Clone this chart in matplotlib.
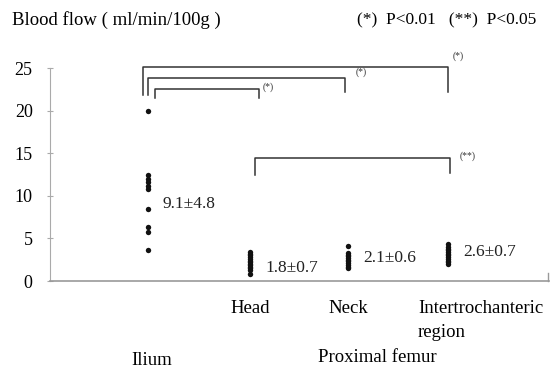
"""Blood flow per site -- dot plot with significance brackets."""

import matplotlib
matplotlib.use("Agg")
import matplotlib.pyplot as plt

plt.rcParams["font.family"] = ["Liberation Serif", "DejaVu Serif"]

# data (ml/min/100g)
ilium = [20.0, 12.4, 12.0, 11.6, 11.2, 10.8, 8.5, 6.4, 5.8, 3.6]
head = [0.8, 1.3, 1.5, 1.7, 1.9, 2.0, 2.2, 2.4, 2.6, 2.8, 3.0, 3.2, 3.35]
neck = [1.5, 1.7, 1.9, 2.1, 2.3, 2.5, 2.7, 2.9, 3.1, 3.3, 4.1]
inter = [2.0, 2.2, 2.4, 2.6, 2.8, 3.0, 3.2, 3.4, 3.6, 3.8, 4.0, 4.3]
summary = ["9.1\u00b14.8", "1.8\u00b10.7", "2.1\u00b10.6", "2.6\u00b10.7"]
summary_y = [9.1, 1.5, 2.7, 3.4]
site_labels = ["Head", "Neck", "Intertrochanteric\nregion"]
yticks = [0, 5, 10, 15, 20, 25]

groups = [ilium, head, neck, inter]
xpos = [1.0, 2.02, 3.0, 4.0]

fig = plt.figure(figsize=(5.5, 3.68), dpi=100)
ax = fig.add_axes([0.0909, 0.2364, 0.9071, 0.6549])
ax.set_xlim(0.02, 5.01)
ax.set_ylim(0, 28.3)

for x, vals in zip(xpos, groups):
    ax.scatter([x] * len(vals), vals, s=15, color="#111111", zorder=3, linewidths=0)

for x, txt, y in zip(xpos, summary, summary_y):
    ax.text(x + 0.15, y, txt, fontsize=12.5, va="center", ha="left", color="#222222")

# significance brackets
def bracket(x0, x1, y, l0, l1, lab, lx, ly):
    ax.plot([x0, x0, x1, x1], [l0, y, y, l1], color="#333333", lw=1.1, clip_on=False)
    ax.text(lx, ly, lab, fontsize=7, ha="left", va="center", color="#333333")

bracket(xpos[0] - 0.05, xpos[3], 25.15, 21.8, 22.2, "(*)", 4.05, 26.4)
bracket(xpos[0], xpos[2] - 0.03, 23.8, 21.8, 22.2, "(*)", 3.08, 24.5)
bracket(xpos[0] + 0.07, xpos[1] + 0.09, 22.6, 21.5, 21.5, "(*)", 2.15, 22.7)
bracket(xpos[1] + 0.05, xpos[3] + 0.02, 14.4, 12.4, 12.7, "(**)", 4.12, 14.6)

for s in ("top", "right"):
    ax.spines[s].set_visible(False)
ax.spines["left"].set_bounds(0, 25)
ax.spines["left"].set_color("#aaaaaa")
ax.spines["bottom"].set_color("#999999")
ax.spines["bottom"].set_linewidth(1.2)
ax.plot([5.0, 5.0], [0, 0.9], color="#999999", lw=1.0, clip_on=False)

ax.set_yticks(yticks)
ax.tick_params(axis="y", direction="inout", length=5, color="#aaaaaa",
               labelsize=13, pad=10)
ax.set_xticks([])

# category labels below the axis
for x, lab, dx in zip(xpos[1:], site_labels, [0, 0, -0.3]):
    ax.annotate(lab, (x + dx, 0), xycoords=("data", "axes fraction"),
                xytext=(0, -19), textcoords="offset pixels",
                ha="center" if dx == 0 else "left", va="top",
                fontsize=13.5, linespacing=1.5)
ax.annotate("Ilium", (xpos[0] + 0.04, 0), xycoords=("data", "axes fraction"),
            xytext=(0, -79), textcoords="offset pixels", ha="center", va="center",
            fontsize=13.5)
ax.annotate("Proximal femur", (3.29, 0), xycoords=("data", "axes fraction"),
            xytext=(0, -76), textcoords="offset pixels", ha="center", va="center",
            fontsize=13.5)

fig.text(12 / 550, 1 - 20 / 368, "Blood flow ( ml/min/100g )", fontsize=13.5,
         va="center", ha="left")
fig.text(357 / 550, 1 - 20 / 368, "(*)  P<0.01   (**)  P<0.05", fontsize=12.5,
         va="center", ha="left")

fig.savefig("out.png", dpi=100)
